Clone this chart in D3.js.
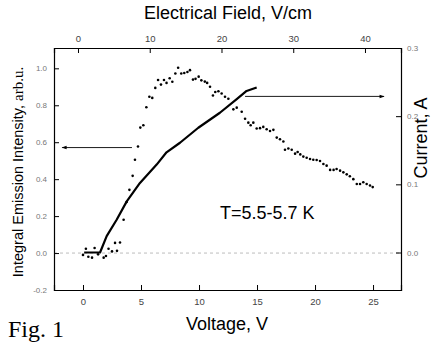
<!DOCTYPE html>
<html>
<head>
<meta charset="utf-8">
<script src="https://cdn.jsdelivr.net/npm/d3@7"></script>
<style>
  body { margin: 0; background: #fff; }
  svg { display: block; }
  .tick text { font-family: "Liberation Sans", Arial, sans-serif; font-size: 8px; fill: #777; }
  .domain { stroke: #000; stroke-width: 1.2; }
  .tick line { stroke: #000; }
</style>
</head>
<body>
<svg id="chart" width="433" height="345"></svg>
<script>
  // 发射强度数据点（电压 V / 积分强度 arb.u.）
  var voltage = [0.0, 0.25, 0.46, 0.78, 1.0, 1.3, 1.78, 1.98, 2.2, 2.5, 2.76, 2.93, 3.19, 3.5, 3.76, 4.0,
    4.28, 4.48, 4.74, 4.94, 5.2, 5.46, 5.72, 5.97, 6.23, 6.47, 6.72, 6.98, 7.2, 7.47, 7.7, 7.96,
    8.2, 8.47, 8.73, 9.0, 9.22, 9.48, 9.7, 9.97, 10.2, 10.5, 10.7, 10.95, 11.2, 11.4, 11.67, 11.95,
    12.24, 12.53, 12.96, 13.25, 13.68, 13.97, 14.25, 14.45, 14.68, 14.97, 15.26, 15.54, 15.83, 16.12,
    16.41, 16.7, 16.98, 17.27, 17.41, 17.7, 17.99, 18.28, 18.5, 18.73, 18.99, 19.28, 19.57, 19.85,
    20.14, 20.43, 20.72, 21.0, 21.3, 21.6, 21.86, 22.16, 22.44, 22.73, 23.0, 23.3, 23.6, 23.88,
    24.16, 24.45, 24.74, 24.97];
  var intensity = [-0.01, 0.023, -0.02, -0.025, 0.027, -0.007, -0.025, -0.016, 0.023, 0.009, 0.055, 0.012, 0.057, 0.18, 0.276, 0.342,
    0.418, 0.505, 0.577, 0.679, 0.692, 0.789, 0.846, 0.84, 0.894, 0.937, 0.912, 0.937, 0.921, 0.946, 0.927, 0.972,
    1.003, 0.972, 0.975, 0.98, 0.99, 0.939, 0.943, 0.955, 0.935, 0.928, 0.921, 0.9, 0.853, 0.872, 0.876, 0.864,
    0.846, 0.835, 0.778, 0.787, 0.765, 0.727, 0.706, 0.692, 0.706, 0.674, 0.676, 0.683, 0.67, 0.661,
    0.667, 0.625, 0.616, 0.604, 0.559, 0.566, 0.559, 0.538, 0.547, 0.534, 0.522, 0.516, 0.509, 0.505,
    0.504, 0.498, 0.482, 0.473, 0.45, 0.45, 0.455, 0.446, 0.437, 0.426, 0.416, 0.40, 0.374, 0.374,
    0.383, 0.374, 0.366, 0.357];

  // 电流曲线（电压 V / 电流 A）
  var currentV = [0.1, 1.47, 2.04, 2.9, 3.77, 4.91, 6.35, 7.2, 8.36, 9.94, 11.8, 13.25, 14.1, 14.97];
  var currentA = [0, 0, 0.024, 0.048, 0.075, 0.102, 0.129, 0.147, 0.161, 0.183, 0.205, 0.225, 0.237, 0.242];

  // 刻度
  var voltageTicks = [0, 5, 10, 15, 20, 25];
  var fieldTicks = [0, 10, 20, 30, 40];
  var intensityTicks = [-0.2, 0.0, 0.2, 0.4, 0.6, 0.8, 1.0];
  var currentTicks = [0.0, 0.1, 0.2, 0.3];

  (function () {
    var svg = d3.select("#chart");
    var pL = 54, pR = 401, pT = 48, pB = 290;
    var sans = "'Liberation Sans', Arial, sans-serif";
    var serif = "'Liberation Serif', 'Times New Roman', serif";

    var x = d3.scaleLinear().domain([-2.5, 27.41]).range([pL, pR]);
    var xTop = d3.scaleLinear().domain([-3.345, 45.02]).range([pL, pR]);
    var y = d3.scaleLinear().domain([-0.2, 1.11]).range([pB, pT]);
    var yRight = d3.scaleLinear().domain([-0.055, 0.3]).range([pB, pT]);

    var fmt = function (d) { return d3.format(".1f")(d).replace("\u2212", "-"); };

    // 零线
    svg.append("line")
      .attr("x1", pL).attr("x2", pR)
      .attr("y1", y(0)).attr("y2", y(0))
      .attr("stroke", "#aaa").attr("stroke-width", 0.8)
      .attr("stroke-dasharray", "3,3");

    // 坐标轴（刻度朝内）
    function minor(axis, scale, vals) {
      return axis(scale).tickValues(vals).tickSize(-3).tickFormat("");
    }

    var gBottom = svg.append("g").attr("transform", "translate(0," + pB + ")");
    gBottom.call(minor(d3.axisBottom, x, d3.range(-2.5, 27.5, 2.5)));
    gBottom.call(d3.axisBottom(x).tickValues(voltageTicks).tickSize(-5).tickPadding(8).tickFormat(d3.format("d")));
    gBottom.selectAll(".tick text").style("font-size", "9.5px").style("fill", "#444");

    var gTop = svg.append("g").attr("transform", "translate(0," + pT + ")");
    gTop.call(minor(d3.axisTop, xTop, d3.range(0, 45, 5)));
    gTop.call(d3.axisTop(xTop).tickValues(fieldTicks).tickSize(-5).tickPadding(6).tickFormat(d3.format("d")));
    gTop.selectAll(".tick text").style("font-size", "9.5px").style("fill", "#444");

    var gLeft = svg.append("g").attr("transform", "translate(" + pL + ",0)");
    gLeft.call(minor(d3.axisLeft, y, d3.range(-0.1, 1.11, 0.2)));
    gLeft.call(d3.axisLeft(y).tickValues(intensityTicks).tickSize(-5).tickPadding(7).tickFormat(fmt));

    var gRight = svg.append("g").attr("transform", "translate(" + pR + ",0)");
    gRight.call(minor(d3.axisRight, yRight, [-0.05, 0.05, 0.15, 0.25]));
    gRight.call(d3.axisRight(yRight).tickValues(currentTicks).tickSize(-5).tickPadding(6).tickFormat(fmt));

    // 强度散点
    svg.append("g").selectAll("circle")
      .data(voltage)
      .enter().append("circle")
      .attr("cx", function (d) { return x(d); })
      .attr("cy", function (d, i) { return y(intensity[i]); })
      .attr("r", 1.3)
      .attr("fill", "#000");

    // 电流曲线
    var line = d3.line()
      .x(function (d) { return x(d); })
      .y(function (d, i) { return yRight(currentA[i]); });
    svg.append("path")
      .datum(currentV)
      .attr("d", line)
      .attr("fill", "none")
      .attr("stroke", "#000")
      .attr("stroke-width", 2.2)
      .attr("stroke-linejoin", "round");

    // 箭头
    svg.append("defs").append("marker")
      .attr("id", "head")
      .attr("viewBox", "0 0 10 10")
      .attr("refX", 9).attr("refY", 5)
      .attr("markerWidth", 7).attr("markerHeight", 5)
      .attr("markerUnits", "userSpaceOnUse")
      .attr("orient", "auto")
      .append("path").attr("d", "M0,1.5L10,5L0,8.5Z").attr("fill", "#000");

    svg.append("line")
      .attr("x1", x(4.22)).attr("x2", x(-1.8))
      .attr("y1", y(0.571)).attr("y2", y(0.571))
      .attr("stroke", "#000").attr("stroke-width", 0.9)
      .attr("marker-end", "url(#head)");

    svg.append("line")
      .attr("x1", x(13.97)).attr("x2", x(25.95))
      .attr("y1", yRight(0.229)).attr("y2", yRight(0.229))
      .attr("stroke", "#000").attr("stroke-width", 0.9)
      .attr("marker-end", "url(#head)");

    // 文字
    svg.append("text")
      .attr("x", 228).attr("y", 19)
      .attr("text-anchor", "middle")
      .style("font-family", sans).style("font-size", "18px")
      .text("Electrical Field, V/cm");

    svg.append("text")
      .attr("x", 227).attr("y", 330)
      .attr("text-anchor", "middle")
      .style("font-family", sans).style("font-size", "18px")
      .text("Voltage, V");

    svg.append("text")
      .attr("x", 220).attr("y", 219)
      .style("font-family", sans).style("font-size", "18px")
      .text("T=5.5-5.7 K");

    svg.append("text")
      .attr("x", 8).attr("y", 337)
      .style("font-family", serif).style("font-size", "24px")
      .text("Fig. 1");

    var yl = svg.append("text")
      .attr("transform", "translate(23,172) rotate(-90)")
      .attr("text-anchor", "middle")
      .style("font-size", "14.5px");
    yl.append("tspan").style("font-family", sans).text("Integral Emission Intensity, ");
    yl.append("tspan").style("font-family", serif).style("font-size", "15px").text("arb.u.");

    svg.append("text")
      .attr("transform", "translate(427,138) rotate(-90)")
      .attr("text-anchor", "middle")
      .style("font-family", sans).style("font-size", "18px")
      .text("Current, A");
  })();
</script>
</body>
</html>
